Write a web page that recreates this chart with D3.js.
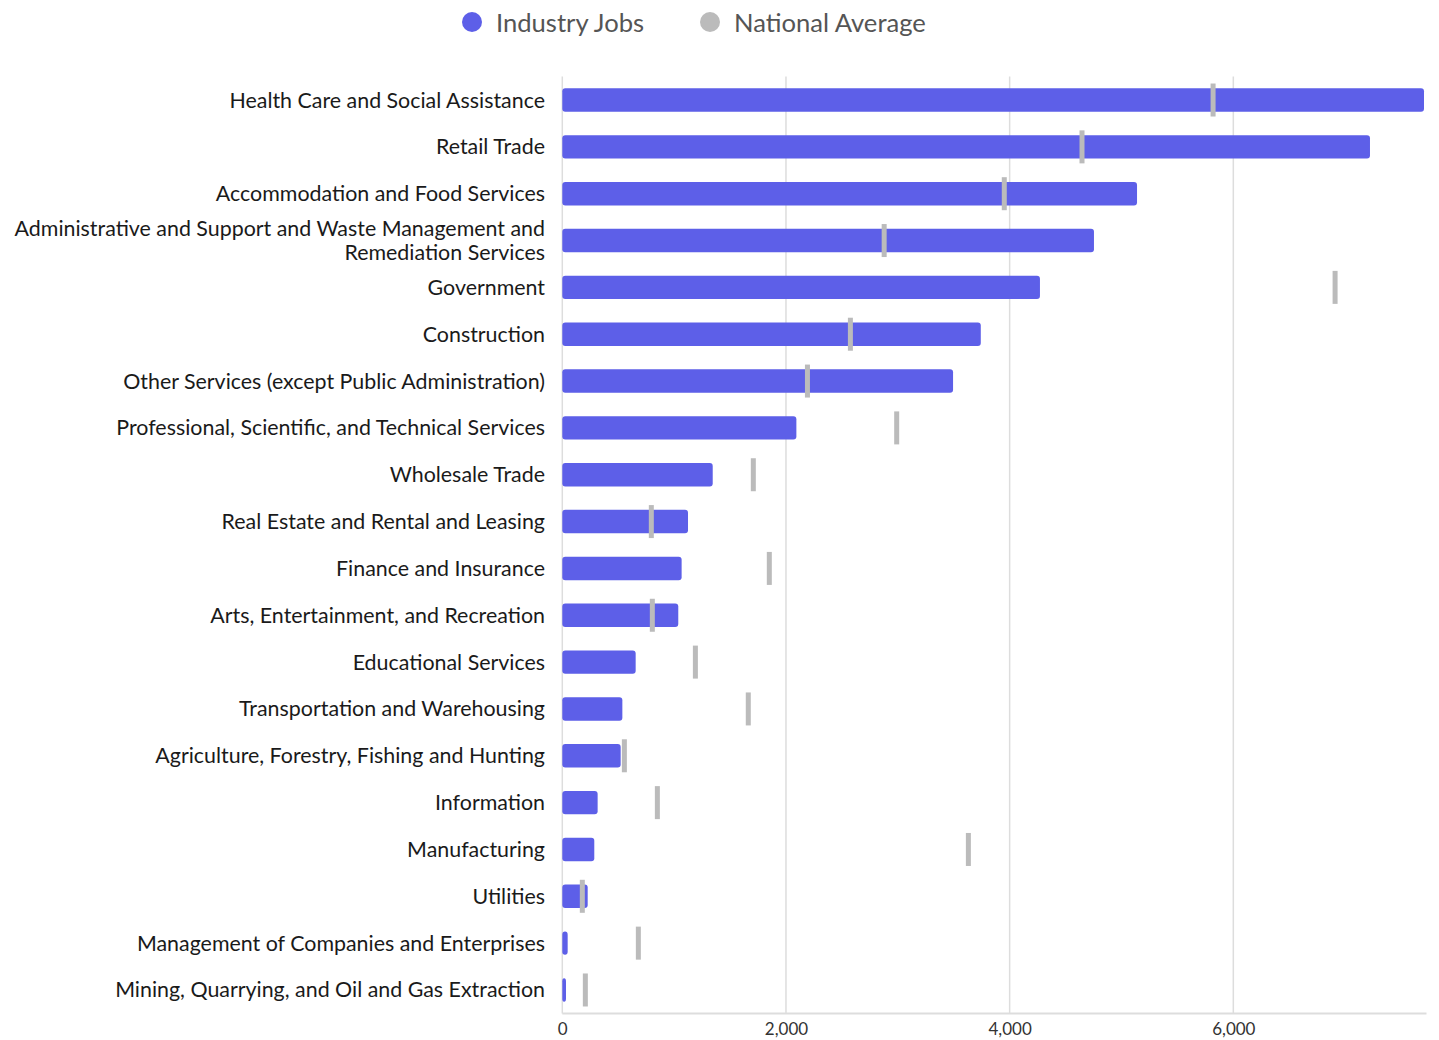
<!DOCTYPE html>
<html>
<head>
<meta charset="utf-8">
<script src="https://cdn.jsdelivr.net/npm/d3@7"></script>
<style>
  html, body { margin: 0; padding: 0; background: #fff; }
  svg { display: block; font-family: Lato, "Open Sans", sans-serif; }
</style>
</head>
<body>
<svg id="chart" width="1439" height="1040"></svg>
<script>
const categories = [
  "Health Care and Social Assistance",
  "Retail Trade",
  "Accommodation and Food Services",
  "Administrative and Support and Waste Management and|Remediation Services",
  "Government",
  "Construction",
  "Other Services (except Public Administration)",
  "Professional, Scientific, and Technical Services",
  "Wholesale Trade",
  "Real Estate and Rental and Leasing",
  "Finance and Insurance",
  "Arts, Entertainment, and Recreation",
  "Educational Services",
  "Transportation and Warehousing",
  "Agriculture, Forestry, Fishing and Hunting",
  "Information",
  "Manufacturing",
  "Utilities",
  "Management of Companies and Enterprises",
  "Mining, Quarrying, and Oil and Gas Extraction"
];
const industryJobs = [7705, 7222, 5139, 4754, 4271, 3742, 3494, 2093, 1345, 1124, 1067, 1037, 656, 537, 522, 316, 286, 227, 48, 33];
const nationalAverage = [5819, 4647, 3952, 2878, 6910, 2576, 2192, 2990, 1708, 796, 1851, 805, 1190, 1663, 555, 850, 3631, 179, 680, 206];
const xTicks = [0, 2000, 4000, 6000];
const legendLabels = ["Industry Jobs", "National Average"];

const BAR = "#5d5fe8", AVG = "#bbbbbb", GRID = "#dddddd";
const svg = d3.select("#chart");
const pLeft = 562.3, pRight = 1424, pTop = 76.6, pBottom = 1013.4;

const x = d3.scaleLinear().domain([0, d3.max(industryJobs)]).range([pLeft, pRight]);
const y = d3.scaleBand().domain(categories).range([pTop, pBottom]).paddingInner(0.5).paddingOuter(0.25);

// gridlines
svg.append("g").selectAll("line").data(xTicks).join("line")
  .attr("x1", d => x(d)).attr("x2", d => x(d))
  .attr("y1", pTop).attr("y2", pBottom)
  .attr("stroke", GRID).attr("stroke-width", 1.5);

// x axis
const xAxis = d3.axisBottom(x).tickValues(xTicks).tickFormat(d3.format(",")).tickSize(0).tickPadding(10);
const gx = svg.append("g").attr("transform", `translate(0,${pBottom})`).call(xAxis);
gx.select(".domain").attr("stroke", GRID).attr("stroke-width", 2).attr("d", `M${pLeft},0H${pRight + 2.5}`);
gx.selectAll("text").attr("font-size", 17).attr("fill", "#333").attr("font-family", "Lato");

// bars
svg.append("g").selectAll("rect").data(categories).join("rect")
  .attr("x", x(0))
  .attr("y", d => y(d))
  .attr("width", (d, i) => x(industryJobs[i]) - x(0))
  .attr("height", y.bandwidth())
  .attr("rx", 3).attr("ry", 3)
  .attr("fill", BAR);

// national average markers
svg.append("g").selectAll("rect").data(categories).join("rect")
  .attr("x", (d, i) => x(nationalAverage[i]) - 2.5)
  .attr("y", d => y(d) + y.bandwidth() / 2 - 16.5)
  .attr("width", 5)
  .attr("height", 33)
  .attr("fill", AVG);

// y labels
const yl = svg.append("g").selectAll("text").data(categories).join("text")
  .attr("x", 545)
  .attr("y", d => y(d) + y.bandwidth() / 2)
  .attr("text-anchor", "end")
  .attr("font-size", 21.4)
  .attr("fill", "#1a1a1a");
yl.each(function(d) {
  const lines = d.split("|");
  const t = d3.select(this);
  const lh = 23.5;
  lines.forEach((ln, i) => {
    t.append("tspan")
      .attr("x", 545)
      .attr("dy", i === 0 ? (-(lines.length - 1) * lh / 2 + 7.5) : lh)
      .text(ln);
  });
});

// legend
const legendX = [472, 710];
const lg = svg.append("g");
legendLabels.forEach((lab, i) => {
  lg.append("circle").attr("cx", legendX[i]).attr("cy", 22).attr("r", 10)
    .attr("fill", i === 0 ? BAR : AVG);
  lg.append("text").attr("x", legendX[i] + 24).attr("y", 23).attr("dy", 8.5)
    .attr("font-size", 25.6).attr("fill", "#555").text(lab);
});
</script>
</body>
</html>
